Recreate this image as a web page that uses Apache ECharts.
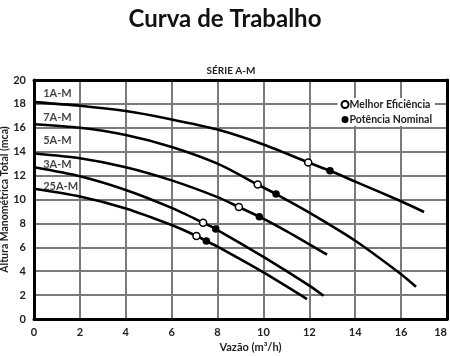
<!DOCTYPE html>
<html>
<head>
<meta charset="utf-8">
<script src="https://cdn.jsdelivr.net/npm/echarts@6/dist/echarts.min.js"></script>
<style>
html,body{margin:0;padding:0;background:#fff;}
#c{width:450px;height:356px;}
</style>
</head>
<body>
<div id="c"></div>
<script>
// ---- data ----
const curveNames = ['1A-M', '7A-M', '5A-M', '3A-M', '25A-M'];
const flow1A  = [0, 2, 4, 6, 8, 10, 11.95, 12.9, 14, 16, 17];
const head1A  = [18.15, 17.85, 17.4, 16.7, 15.85, 14.6, 13.1, 12.4, 11.5, 9.85, 8.95];
const flow7A  = [0, 2, 4, 6, 8, 9.75, 10.55, 12, 14, 16, 16.65];
const head7A  = [16.3, 16.0, 15.4, 14.4, 13.0, 11.25, 10.45, 8.9, 6.55, 3.75, 2.7];
const flow5A  = [0, 2, 4, 6, 8, 8.93, 9.82, 11, 12.77];
const head5A  = [13.85, 13.45, 12.7, 11.6, 10.2, 9.37, 8.56, 7.35, 5.38];
const flow3A  = [0, 2, 4, 6, 7.37, 7.92, 10, 12, 12.62];
const head3A  = [12.7, 11.95, 10.8, 9.3, 8.06, 7.53, 5.2, 2.8, 1.95];
const flow25A = [0, 2, 4, 6, 7.08, 7.51, 8, 10, 11.9];
const head25A = [10.9, 10.25, 9.25, 7.86, 6.95, 6.53, 6.05, 3.9, 1.67];

const bepFlow   = [11.95, 9.75, 8.93, 7.37, 7.08];
const bepHead   = [13.1, 11.25, 9.37, 8.06, 6.95];
const ratedFlow = [12.9, 10.55, 9.82, 7.92, 7.51];
const ratedHead = [12.4, 10.45, 8.56, 7.53, 6.53];

// curve label anchors (flow, head) for the text tags
const tagFlow = [0.4, 0.4, 0.4, 0.4, 0.4];
const tagHead = [18.9, 16.9, 14.9, 12.95, 11.1];

const xTicks = [0, 2, 4, 6, 8, 10, 12, 14, 16, 18];
const yTicks = [0, 2, 4, 6, 8, 10, 12, 14, 16, 18, 20];

const legendBEP = 'Melhor Eficiência';
const legendRated = 'Potência Nominal';

// ---- build ----
const FONT = 'Lato';
const zip = (a, b) => a.map((v, i) => [v, b[i]]);
const curves = [
  zip(flow1A, head1A), zip(flow7A, head7A), zip(flow5A, head5A),
  zip(flow3A, head3A), zip(flow25A, head25A)
];

const chart = echarts.init(document.getElementById('c'));
const series = curves.map((d, i) => ({
  name: curveNames[i],
  type: 'line',
  data: d,
  smooth: 0.25,
  showSymbol: false,
  lineStyle: { color: '#000', width: 2.6 },
  z: 3,
  silent: true
}));
series.push({
  name: 'tags',
  type: 'scatter',
  symbolSize: 0,
  data: tagFlow.map((f, i) => [f, tagHead[i], curveNames[i]]),
  label: {
    show: true, position: 'right', distance: 0,
    formatter: p => p.data[2],
    color: '#111', fontFamily: FONT, fontWeight: 'bold', fontSize: 11
  },
  z: 4
});
series.push({
  name: legendBEP,
  type: 'scatter',
  data: zip(bepFlow, bepHead),
  symbol: 'circle',
  symbolSize: 7,
  itemStyle: { color: '#fff', borderColor: '#000', borderWidth: 1.5, opacity: 1 },
  z: 5
});
series.push({
  name: legendRated,
  type: 'scatter',
  data: zip(ratedFlow, ratedHead),
  symbol: 'circle',
  symbolSize: 7.5,
  itemStyle: { color: '#000', opacity: 1 },
  z: 5
});

const axisLabel = { color: '#222', fontFamily: FONT, fontWeight: 'bold', fontSize: 11 };
const split = { show: true, lineStyle: { color: '#7a7a7a', width: 2 } };

chart.setOption({
  animation: false,
  backgroundColor: '#fff',
  title: [
    { text: 'Curva de Trabalho', left: 'center', top: 2,
      textStyle: { fontFamily: FONT, fontWeight: 'bold', fontSize: 24, color: '#111' } },
    { text: 'SÉRIE A-M', left: 226, top: 61, textAlign: 'center',
      textStyle: { fontFamily: FONT, fontWeight: 'bold', fontSize: 10, color: '#222' } }
  ],
  legend: {
    data: [legendBEP, legendRated],
    orient: 'vertical',
    right: 15, top: 98,
    itemWidth: 7, itemHeight: 7, itemGap: 4,
    padding: [1, 3, 1, 3],
    backgroundColor: '#fff',
    textStyle: { fontFamily: FONT, fontWeight: 'bold', fontSize: 10.5, color: '#222', padding: [0, 0, 0, -4] },
    selectedMode: false
  },
  grid: { left: 34, right: 3, top: 80, bottom: 37, outerBoundsMode: 'none', containLabel: false },
  xAxis: [{
    type: 'value', min: 0, max: 18, interval: 2,
    name: 'Vazão (m³/h)', nameLocation: 'middle', nameGap: 23, nameMoveOverlap: false,
    nameTextStyle: { fontFamily: FONT, fontWeight: 'bold', fontSize: 11, color: '#222', padding: [0, 0, 0, 20] },
    axisLine: { show: true, onZero: false, lineStyle: { color: '#000', width: 3 } },
    axisTick: { show: false },
    axisLabel: Object.assign({ margin: 8, alignMaxLabel: 'right', hideOverlap: false,
      formatter: v => xTicks.includes(v) ? String(v) : '' }, axisLabel),
    splitLine: split
  }, {
    type: 'value', min: 0, max: 18, interval: 2, position: 'top',
    axisLine: { show: true, onZero: false, lineStyle: { color: '#000', width: 3 } },
    axisTick: { show: false }, axisLabel: { show: false }, splitLine: { show: false }
  }],
  yAxis: [{
    type: 'value', min: 0, max: 20, interval: 2,
    name: 'Altura Manométrica Total (mca)', nameLocation: 'middle', nameGap: 24, nameMoveOverlap: false,
    nameTextStyle: { fontFamily: FONT, fontWeight: 'bold', fontSize: 10.5, color: '#222' },
    axisLine: { show: true, onZero: false, lineStyle: { color: '#000', width: 3 } },
    axisTick: { show: false },
    axisLabel: Object.assign({ margin: 8, hideOverlap: false,
      formatter: v => yTicks.includes(v) ? String(v) : '' }, axisLabel),
    splitLine: split
  }, {
    type: 'value', min: 0, max: 20, interval: 2, position: 'right',
    axisLine: { show: true, onZero: false, lineStyle: { color: '#000', width: 3 } },
    axisTick: { show: false }, axisLabel: { show: false }, splitLine: { show: false }
  }],
  series: series
});
</script>
</body>
</html>
